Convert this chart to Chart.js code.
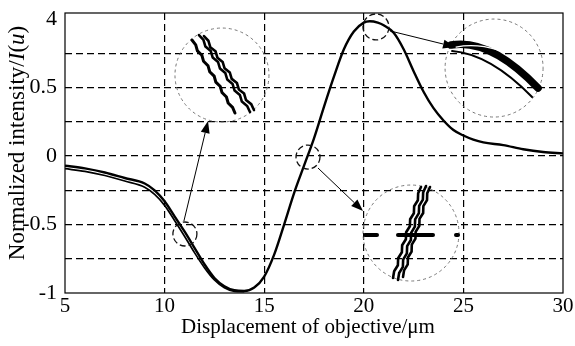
<!DOCTYPE html>
<html>
<head>
<meta charset="utf-8">
<script src="https://cdn.jsdelivr.net/npm/chart.js@4.4.0/dist/chart.umd.min.js"></script>
<style>
  html, body { margin: 0; padding: 0; background: #fff; }
  canvas { display: block; }
</style>
</head>
<body>
<canvas id="chart" width="575" height="346"></canvas>
<script>
// Displacement of objective (um) and normalized intensity
const displacement = [5, 6, 7, 8, 9, 9.5, 10, 10.5, 11, 11.5, 12, 12.5, 13, 13.5, 14, 14.5, 15, 15.5, 16, 16.5, 17, 17.5, 18, 18.5, 19, 19.5, 20, 20.3, 20.7, 21, 21.5, 22, 22.5, 23, 23.5, 24, 24.5, 25, 25.5, 26, 27, 28, 29, 30];
const intensity = [-0.07, -0.09, -0.12, -0.16, -0.20, -0.25, -0.33, -0.44, -0.55, -0.67, -0.79, -0.89, -0.95, -0.98, -0.985, -0.96, -0.88, -0.72, -0.50, -0.27, -0.07, 0.13, 0.36, 0.58, 0.78, 0.91, 0.975, 0.985, 0.975, 0.955, 0.90, 0.78, 0.62, 0.47, 0.35, 0.26, 0.19, 0.15, 0.12, 0.10, 0.08, 0.05, 0.03, 0.02];

// second (slightly offset) curve visible on the left part
const displacementB = [5, 6, 7, 8, 9, 9.5, 10, 10.5, 11, 11.5, 12, 12.5, 13, 13.5, 14];
const intensityB = [-0.092, -0.112, -0.142, -0.182, -0.227, -0.28, -0.36, -0.47, -0.585, -0.705, -0.815, -0.905, -0.962, -0.988, -0.99];

const xTickValues = [5, 10, 15, 20, 25, 30];
const yTickValues = [-1, -0.75, -0.5, -0.25, 0, 0.25, 0.5, 0.75, 1];
const yTickLabels = { '-1': '-1', '-0.5': '-0.5', '0': '0', '0.5': '0.5', '1': '4' };

const xTitle = 'Displacement of objective/\u03bcm';
const yTitle = 'Normalized intensity/';
const yTitleItalic = 'I';

const FONT = '"Liberation Serif", "DejaVu Serif", serif';

// annotation circles (data coords + radius in px)
const bigCircles = [
    { x: 12.88, y: 0.592, r: 47 },
    { x: 26.54, y: 0.643, r: 49 },
    { x: 22.37, y: -0.562, r: 48 }
];
const smallCircles = [
    { x: 11.02, y: -0.569, r: 12 },
    { x: 17.20, y: -0.007, r: 12 },
    { x: 20.61, y: 0.943, r: 13 }
];
const arrows = [
    { x1: 10.97, y1: -0.474, x2: 12.18, y2: 0.256 },
    { x1: 21.32, y1: 0.914, x2: 24.58, y2: 0.797 },
    { x1: 17.70, y1: -0.087, x2: 19.96, y2: -0.401 }
];

function toPoints(xs, ys) {
    return xs.map((x, i) => ({ x: x, y: ys[i] }));
}

function jaggedLine(ctx, x1, y1, x2, y2, width, amp) {
    const n = 14;
    const dx = x2 - x1, dy = y2 - y1;
    const len = Math.hypot(dx, dy);
    const nx = -dy / len, ny = dx / len;
    ctx.lineWidth = width;
    ctx.beginPath();
    for (let i = 0; i <= n; i++) {
        const t = i / n;
        const o = (i % 2 === 0 ? 1 : -1) * amp * (i === 0 || i === n ? 0 : 1);
        const px = x1 + dx * t + nx * o;
        const py = y1 + dy * t + ny * o;
        if (i === 0) ctx.moveTo(px, py); else ctx.lineTo(px, py);
    }
    ctx.stroke();
}

const decorations = {
    id: 'decorations',
    afterDraw(chart) {
        const ctx = chart.ctx;
        const a = chart.chartArea;
        const xs = chart.scales.x, ys = chart.scales.y;
        const px = v => xs.getPixelForValue(v);
        const py = v => ys.getPixelForValue(v);

        ctx.save();
        // frame
        ctx.strokeStyle = '#000';
        ctx.lineWidth = 1.2;
        ctx.setLineDash([]);
        ctx.strokeRect(a.left, a.top, a.right - a.left, a.bottom - a.top);

        // big dashed circles
        ctx.strokeStyle = '#777';
        ctx.lineWidth = 1;
        ctx.setLineDash([3, 3]);
        bigCircles.forEach(c => {
            ctx.beginPath();
            ctx.arc(px(c.x), py(c.y), c.r, 0, Math.PI * 2);
            ctx.stroke();
        });
        // small dashed circles
        ctx.strokeStyle = '#111';
        ctx.lineWidth = 1.3;
        ctx.setLineDash([6, 3]);
        smallCircles.forEach(c => {
            ctx.beginPath();
            ctx.arc(px(c.x), py(c.y), c.r, 0, Math.PI * 2);
            ctx.stroke();
        });
        ctx.setLineDash([]);

        // arrows
        ctx.strokeStyle = '#000';
        ctx.fillStyle = '#000';
        arrows.forEach(ar => {
            const x1 = px(ar.x1), y1 = py(ar.y1), x2 = px(ar.x2), y2 = py(ar.y2);
            const ang = Math.atan2(y2 - y1, x2 - x1);
            const hl = 12, hw = 4.5;
            const bx = x2 - Math.cos(ang) * hl, by = y2 - Math.sin(ang) * hl;
            ctx.lineWidth = 1;
            ctx.beginPath();
            ctx.moveTo(x1, y1);
            ctx.lineTo(bx, by);
            ctx.stroke();
            ctx.beginPath();
            ctx.moveTo(x2, y2);
            ctx.lineTo(bx - Math.sin(ang) * hw, by + Math.cos(ang) * hw);
            ctx.lineTo(bx + Math.sin(ang) * hw, by - Math.cos(ang) * hw);
            ctx.closePath();
            ctx.fill();
        });

        // inset contents
        ctx.lineCap = 'round';
        // top-left inset
        let cx = px(bigCircles[0].x), cy = py(bigCircles[0].y);
        jaggedLine(ctx, cx - 30, cy - 35, cx + 13, cy + 38, 3, 0.8);
        jaggedLine(ctx, cx - 23, cy - 40, cx + 28, cy + 37, 2.6, 1.0);
        jaggedLine(ctx, cx - 18, cy - 39, cx + 32, cy + 35, 2.6, 1.0);

        // top-right inset
        cx = px(bigCircles[1].x); cy = py(bigCircles[1].y);
        ctx.lineWidth = 7.5;
        ctx.beginPath();
        ctx.moveTo(cx - 43, cy - 23);
        ctx.quadraticCurveTo(cx - 4, cy - 30, cx + 44, cy + 20);
        ctx.stroke();
        ctx.strokeStyle = '#fff';
        ctx.lineWidth = 1.2;
        ctx.beginPath();
        ctx.moveTo(cx - 38, cy - 21);
        ctx.quadraticCurveTo(cx - 18, cy - 25, cx + 4, cy - 18);
        ctx.stroke();
        ctx.strokeStyle = '#000';
        ctx.lineWidth = 2;
        ctx.beginPath();
        ctx.moveTo(cx - 42, cy - 17);
        ctx.quadraticCurveTo(cx - 4, cy - 14, cx + 38, cy + 29);
        ctx.stroke();

        // bottom inset
        cx = px(bigCircles[2].x); cy = py(bigCircles[2].y);
        ctx.lineWidth = 4;
        [[-46, -34], [-13, 22], [45, 47]].forEach(s => {
            ctx.beginPath();
            ctx.moveTo(cx + s[0], cy + 2);
            ctx.lineTo(cx + s[1], cy + 2);
            ctx.stroke();
        });
        jaggedLine(ctx, cx - 18, cy + 45, cx + 10, cy - 46, 2.6, 0.9);
        jaggedLine(ctx, cx - 13, cy + 47, cx + 15, cy - 47, 2.6, 0.9);
        jaggedLine(ctx, cx - 8, cy + 44, cx + 19, cy - 46, 2.6, 0.9);

        // axis titles
        ctx.fillStyle = '#000';
        ctx.font = '21px ' + FONT;
        ctx.textAlign = 'center';
        ctx.textBaseline = 'middle';
        ctx.fillText(xTitle, 308, 327);

        ctx.translate(18, 143);
        ctx.rotate(-Math.PI / 2);
        const parts = [
            [yTitle, ''], [yTitleItalic, 'italic '], ['(', ''], ['u', 'italic '], [')', '']
        ];
        const size = '23px ';
        const widths = parts.map(p => { ctx.font = p[1] + size + FONT; return ctx.measureText(p[0]).width; });
        let x0 = -widths.reduce((s, w) => s + w, 0) / 2;
        ctx.textAlign = 'left';
        parts.forEach((p, i) => {
            ctx.font = p[1] + size + FONT;
            ctx.fillText(p[0], x0, 0);
            x0 += widths[i];
        });
        ctx.restore();
    }
};

const innerGrid = (values) => (ctx) => {
    const v = ctx.tick ? ctx.tick.value : null;
    return values.some(t => Math.abs(t - v) < 1e-6) ? '#000' : 'rgba(0,0,0,0)';
};

new Chart(document.getElementById('chart'), {
    type: 'line',
    data: {
        datasets: [
            {
                data: toPoints(displacement, intensity),
                borderColor: '#000',
                borderWidth: 2.4,
                pointRadius: 0,
                cubicInterpolationMode: 'monotone',
                fill: false
            },
            {
                data: toPoints(displacementB, intensityB),
                borderColor: '#000',
                borderWidth: 1.7,
                pointRadius: 0,
                cubicInterpolationMode: 'monotone',
                fill: false
            }
        ]
    },
    options: {
        responsive: false,
        animation: false,
        layout: { padding: { left: 0, right: 12, top: 13, bottom: 0 } },
        plugins: {
            legend: { display: false },
            tooltip: { enabled: false }
        },
        scales: {
            x: {
                type: 'linear',
                min: 5,
                max: 30,
                afterFit: (s) => { s.height = 53; s.paddingLeft = 0; s.paddingRight = 0; },
                afterBuildTicks: (s) => { s.ticks = xTickValues.map(v => ({ value: v })); },
                ticks: {
                    color: '#000',
                    padding: 1,
                    maxRotation: 0,
                    autoSkip: false,
                    font: { family: FONT, size: 21 },
                    callback: (v) => String(v)
                },
                grid: {
                    color: innerGrid([10, 15, 20, 25]),
                    lineWidth: 1.2,
                    drawTicks: false
                },
                border: { display: false, dash: [7, 4] }
            },
            y: {
                type: 'linear',
                min: -1,
                max: 1.045,
                afterFit: (s) => { s.width = 65; s.paddingTop = 0; s.paddingBottom = 0; },
                afterBuildTicks: (s) => { s.ticks = yTickValues.map(v => ({ value: v })); },
                ticks: {
                    color: '#000',
                    padding: 8,
                    autoSkip: false,
                    font: { family: FONT, size: 22 },
                    callback: (v) => {
                        const key = String(Math.round(v * 100) / 100);
                        return yTickLabels[key] !== undefined ? yTickLabels[key] : '';
                    }
                },
                grid: {
                    color: innerGrid([-0.75, -0.5, -0.25, 0, 0.25, 0.5, 0.75]),
                    lineWidth: 1.2,
                    drawTicks: false
                },
                border: { display: false, dash: [7, 4] }
            }
        }
    },
    plugins: [decorations]
});
</script>
</body>
</html>
